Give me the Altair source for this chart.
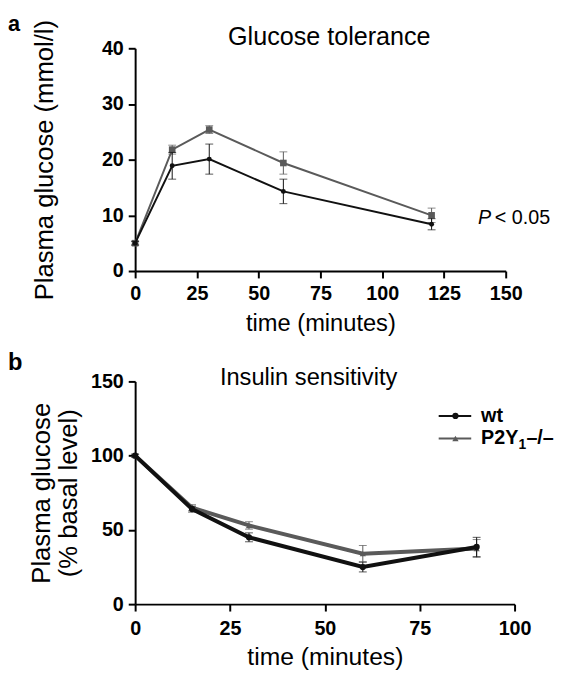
"""Glucose tolerance and insulin sensitivity, wt vs P2Y1-/- mice"""

import altair as alt
import pandas as pd

FONT = "Liberation Sans"

# panel a: glucose tolerance, plasma glucose in mmol/l
gtt_time = [0, 15, 30, 60, 120]
gtt_wt = [5.0, 18.9, 20.1, 14.3, 8.4]
gtt_wt_sem = [0.3, 2.4, 2.7, 2.2, 1.0]
gtt_ko = [5.0, 21.8, 25.4, 19.4, 10.0]
gtt_ko_sem = [0.4, 0.8, 0.7, 2.0, 1.3]

# panel b: insulin sensitivity, plasma glucose in % of basal level
itt_time = [0, 15, 30, 60, 90]
itt_wt = [100, 64, 45, 25, 38.5]
itt_wt_sem = [1.0, 2.0, 3.0, 3.3, 6.5]
itt_ko = [100, 65, 53, 34, 37.5]
itt_ko_sem = [1.0, 2.0, 2.5, 5.5, 6.0]

gtt_x_ticks = [0, 25, 50, 75, 100, 125, 150]
gtt_y_ticks = [0, 10, 20, 30, 40]
itt_x_ticks = [0, 25, 50, 75, 100]
itt_y_ticks = [0, 50, 100, 150]

WT_COLOUR = "#111111"
KO_COLOUR = "#5a5a5a"


def series(time, mean, sem):
    return pd.DataFrame({"time": time, "mean": mean, "sem": sem})


def axis_style():
    return dict(grid=False, domainColor="black", domainWidth=2, tickColor="black",
                tickWidth=2, tickSize=7, labelFlush=False, labelFont=FONT,
                labelFontSize=20, labelColor="black", labelFontWeight="bold",
                titleFont=FONT, titleFontWeight="normal", titleColor="black",
                titleBaseline="middle")


def x_enc(ticks, width, title_size, title_y, label_pad):
    return alt.X("time:Q", scale=alt.Scale(domain=[ticks[0], ticks[-1]], nice=False),
                 axis=alt.Axis(values=ticks, title="time (minutes)", labelPadding=label_pad,
                               titleFontSize=title_size, titleY=title_y, titleX=width / 2,
                               **axis_style()))


def y_enc(ticks, title, title_x, height):
    return alt.Y("mean:Q", scale=alt.Scale(domain=[ticks[0], ticks[-1]], nice=False),
                 axis=alt.Axis(values=ticks, title=title, labelPadding=5,
                               titleFontSize=26, titleAlign="center", titleAngle=-90,
                               titleX=title_x, titleY=height / 2, titleLineHeight=28,
                               **axis_style()))


def group_layers(df, x, y, colour, shape, size, stroke):
    """Line, error bars and markers of one genotype"""
    base = alt.Chart(df).encode(x=x, y=y)
    bars = base.mark_errorbar(ticks={"size": 8}, thickness=1, color=colour).encode(
        yError="sem:Q")
    line = base.mark_line(color=colour, strokeWidth=stroke)
    points = base.mark_point(shape=shape, filled=True, opacity=1, color=colour, size=size)
    return bars + line + points


def note(text, x, y, size, weight="normal", align="left", style="normal",
         baseline="middle", colour="black"):
    return alt.Chart(pd.DataFrame({"t": [text]})).mark_text(
        font=FONT, fontSize=size, fontWeight=weight, fontStyle=style, align=align,
        baseline=baseline, color=colour).encode(text="t:N", x=alt.value(x), y=alt.value(y))


def legend_row(y, colour, shape):
    line = alt.Chart(pd.DataFrame({"t": [0]})).mark_rule(
        color=colour, strokeWidth=2).encode(x=alt.value(308), x2=alt.value(341), y=alt.value(y))
    marker = alt.Chart(pd.DataFrame({"t": [0]})).mark_point(
        shape=shape, filled=True, opacity=1, color=colour, size=40).encode(
        x=alt.value(325), y=alt.value(y))
    return line + marker


def glucose_tolerance_chart():
    width, height = 376, 226
    x = x_enc(gtt_x_ticks, width, 24, 53, 6)
    y = y_enc(gtt_y_ticks, "Plasma glucose (mmol/l)", -92, height)
    ko = group_layers(series(gtt_time, gtt_ko, gtt_ko_sem), x, y, KO_COLOUR, "square", 45, 2)
    wt = group_layers(series(gtt_time, gtt_wt, gtt_wt_sem), x, y, WT_COLOUR, "circle", 25, 2)
    notes = (note("a", -129, -35, 22, weight="bold", baseline="top")
             + note("Glucose tolerance", 197, -11, 25.5, align="center")
             + note("P", 348, 172, 20, style="italic")
             + note("< 0.05", 365, 172, 20))
    return alt.layer(ko, wt, notes).properties(width=width, height=height)


def insulin_sensitivity_chart():
    width, height = 385, 226
    x = x_enc(itt_x_ticks, width, 25, 53, 8)
    y = y_enc(itt_y_ticks, ["Plasma glucose", "(% basal level)"], -95, height)
    ko = group_layers(series(itt_time, itt_ko, itt_ko_sem), x, y, KO_COLOUR, "triangle-up", 40, 4)
    wt = group_layers(series(itt_time, itt_wt, itt_wt_sem), x, y, WT_COLOUR, "circle", 40, 4)
    legend = (legend_row(35, WT_COLOUR, "circle") + legend_row(58, KO_COLOUR, "triangle-up")
              + note("wt", 351, 35, 20, weight="bold")
              + note("P2Y", 351, 58, 20, weight="bold")
              + note("1", 389, 65, 14, weight="bold")
              + note("\u2013/\u2013", 397, 58, 20, weight="bold"))
    notes = (note("b", -129, -12, 24, weight="bold", baseline="alphabetic")
             + note("Insulin sensitivity", 176, -3, 24, align="center"))
    return alt.layer(ko, wt, legend, notes).properties(width=width, height=height)


chart = alt.vconcat(
    glucose_tolerance_chart(), insulin_sensitivity_chart(), spacing=112, bounds="flush"
).properties(padding=0).configure_view(stroke=None)

chart.save("out.html", embed_options={"renderer": "svg", "actions": False})
